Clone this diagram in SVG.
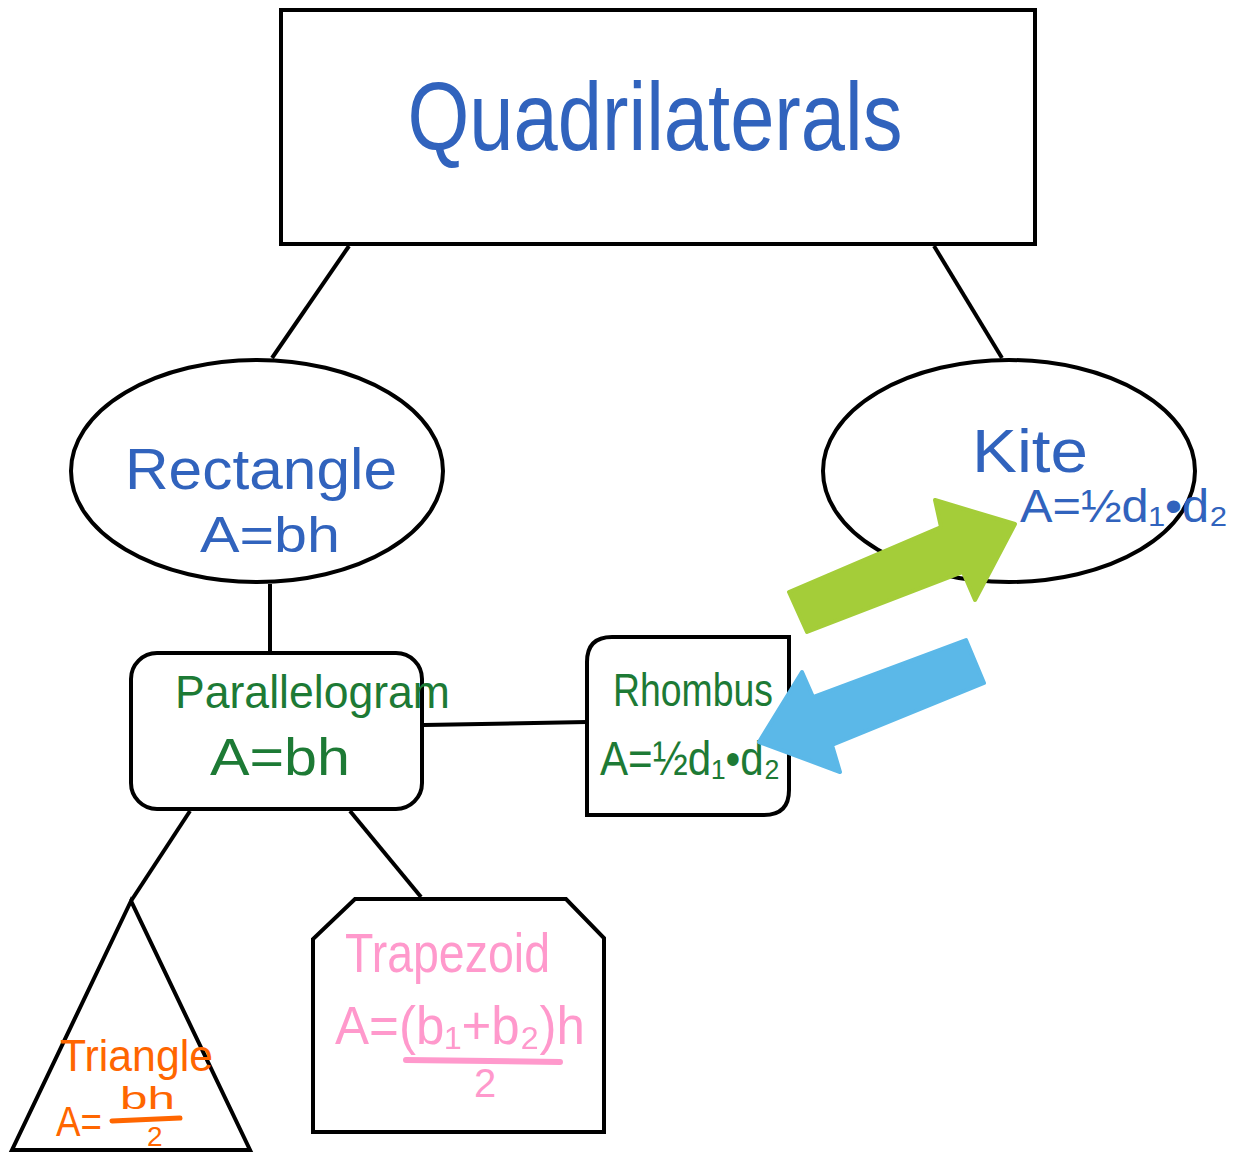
<svg xmlns="http://www.w3.org/2000/svg" width="1233" height="1153" viewBox="0 0 1233 1153">
<style>
.shape{fill:#fff;stroke:#000;stroke-width:4}
.conn{stroke:#000;stroke-width:4;fill:none}
text{font-family:"Liberation Sans","DejaVu Sans",sans-serif}
.blue{fill:#3163bd}
.green{fill:#1d7a35}
.orange{fill:#ff6600}
.pink{fill:#ff99cc}
</style>
<rect width="1233" height="1153" fill="#fff"/>
<g id="connectors">
<line class="conn" x1="349" y1="246" x2="272" y2="358"/>
<line class="conn" x1="934" y1="246" x2="1002" y2="358"/>
<line class="conn" x1="270" y1="584" x2="270" y2="652"/>
<line class="conn" x1="424" y1="725" x2="587" y2="722"/>
<line class="conn" x1="190" y1="811" x2="131" y2="901"/>
<line class="conn" x1="350" y1="811" x2="421" y2="897"/>
</g>
<g id="quadrilaterals">
<rect class="shape" x="281" y="10" width="754" height="234"/>
<text class="blue" x="655" y="150" font-size="96" text-anchor="middle" textLength="495" lengthAdjust="spacingAndGlyphs">Quadrilaterals</text>
</g>
<g id="rectangle">
<ellipse class="shape" cx="257" cy="471" rx="186" ry="111"/>
<text class="blue" x="125" y="489" font-size="58" textLength="272" lengthAdjust="spacingAndGlyphs">Rectangle</text>
<text class="blue" x="200" y="552" font-size="50" textLength="140" lengthAdjust="spacingAndGlyphs">A=bh</text>
</g>
<g id="kite">
<ellipse class="shape" cx="1009" cy="471" rx="186" ry="111"/>
<text class="blue" x="972" y="472" font-size="62" textLength="116" lengthAdjust="spacingAndGlyphs">Kite</text>
<text class="blue" x="1020" y="522" font-size="46" textLength="208" lengthAdjust="spacingAndGlyphs">A=½d₁•d₂</text>
</g>
<g id="parallelogram">
<rect class="shape" x="131" y="653" width="291" height="156" rx="26"/>
<text class="green" x="175" y="708" font-size="46" textLength="275" lengthAdjust="spacingAndGlyphs">Parallelogram</text>
<text class="green" x="210" y="775" font-size="52" textLength="140" lengthAdjust="spacingAndGlyphs">A=bh</text>
</g>
<g id="rhombus">
<path class="shape" d="M587 815 L587 662 Q587 637 612 637 L789 637 L789 790 Q789 815 764 815 Z"/>
<text class="green" x="613" y="706" font-size="46" textLength="160" lengthAdjust="spacingAndGlyphs">Rhombus</text>
<text class="green" x="600" y="775" font-size="48" textLength="180" lengthAdjust="spacingAndGlyphs">A=½d₁•d₂</text>
</g>
<g id="triangle">
<polygon class="shape" points="131,901 12,1150 250,1150"/>
<text class="orange" x="60" y="1071" font-size="44" textLength="153" lengthAdjust="spacingAndGlyphs">Triangle</text>
<text class="orange" x="56" y="1136" font-size="42" textLength="46" lengthAdjust="spacingAndGlyphs">A=</text>
<text class="orange" x="120" y="1109" font-size="32" textLength="55" lengthAdjust="spacingAndGlyphs">bh</text>
<line x1="112" y1="1121" x2="180" y2="1118" stroke="#ff6600" stroke-width="5" stroke-linecap="round"/>
<text class="orange" x="147" y="1146" font-size="28">2</text>
</g>
<g id="trapezoid">
<polygon class="shape" points="355,899 566,899 604,938 604,1132 313,1132 313,939"/>
<text class="pink" x="345" y="972" font-size="56" textLength="205" lengthAdjust="spacingAndGlyphs">Trapezoid</text>
<text class="pink" x="335" y="1044" font-size="54" textLength="250" lengthAdjust="spacingAndGlyphs">A=(b₁+b₂)h</text>
<line x1="406" y1="1060" x2="560" y2="1062" stroke="#ff99cc" stroke-width="6" stroke-linecap="round"/>
<text class="pink" x="474" y="1097" font-size="40">2</text>
</g>
<g id="arrows">
<polygon fill="#a4cd39" stroke="#a4cd39" stroke-width="4" stroke-linejoin="round" points="789,592 807,632 963,572 975,600 1015,524 935,500 941,527"/>
<polygon fill="#5bb8e8" stroke="#5bb8e8" stroke-width="4" stroke-linejoin="round" points="966,640 984,683 832,745 840,772 759,742 802,672 813,697"/>
</g>
</svg>
